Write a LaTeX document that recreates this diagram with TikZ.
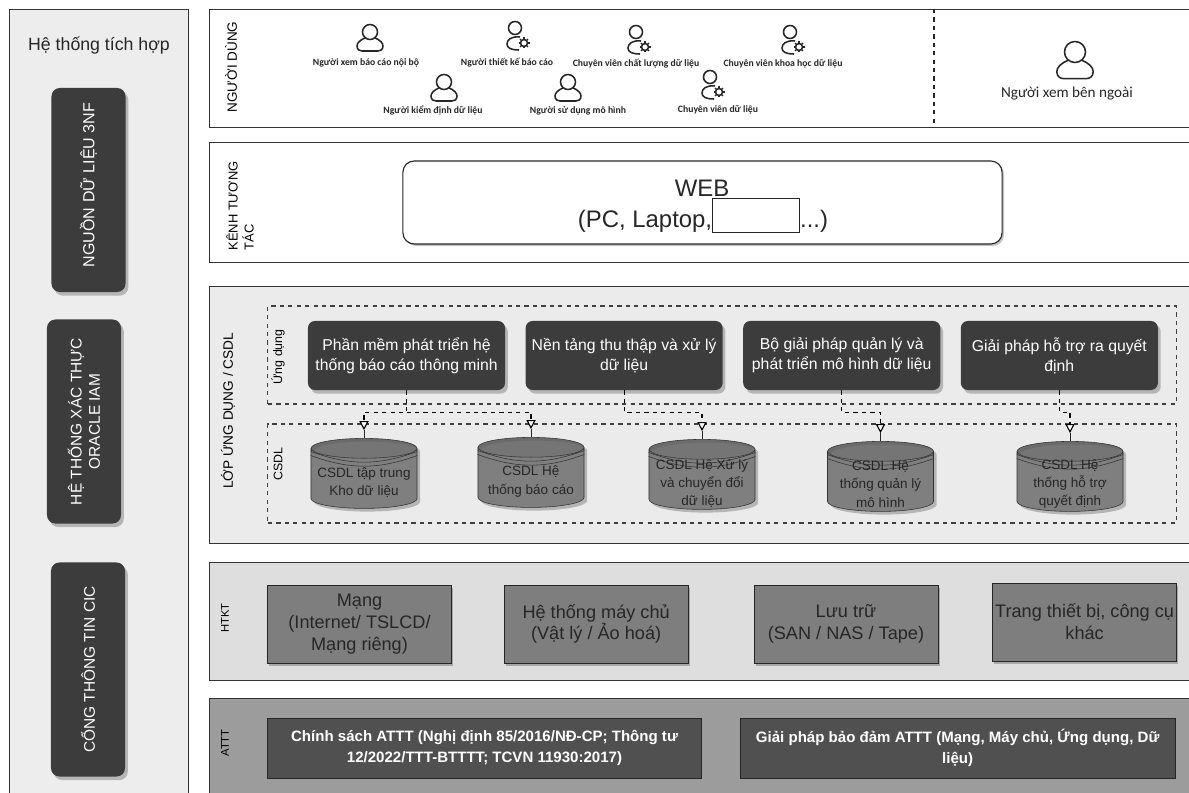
\documentclass[tikz,border=0pt]{standalone}
\usepackage{fontspec}
\setmainfont{Liberation Sans}
\newfontfamily\userfont{Carlito}
\usetikzlibrary{shapes.geometric,arrows.meta,positioning,calc,shadows}
\definecolor{darkbox}{HTML}{3C3C3C}
\definecolor{midbox}{HTML}{7E7E7E}
\definecolor{secbox}{HTML}{505050}
\definecolor{secpanel}{HTML}{9C9C9C}
\newcommand{\dbgap}{\phantom{CSDL tap trung}\\\phantom{Kho}}
\begin{document}
\begin{tikzpicture}[
    x=0.025cm, y=-0.025cm,
    panel/.style={rectangle, draw=black!80, thick, fill=#1, anchor=north west, inner sep=0pt},
    sidebox/.style={rectangle, rounded corners=6pt, fill=darkbox, text=white, rotate=90, align=center, font=\fontsize{11}{13}\selectfont, minimum width=5.1cm, minimum height=1.85cm, drop shadow={shadow xshift=0.07cm, shadow yshift=-0.09cm, fill=black!50}},
    paneltext/.style={rotate=90, align=left, inner sep=0pt, font=\fontsize{#1}{11.5}\selectfont},
    zonebox/.style={rectangle, draw=black!75, dashed, thick, minimum width=22.7cm, inner sep=0pt},
    appbox/.style={rectangle, rounded corners=5pt, fill=darkbox, text=white, align=center, font=\fontsize{11.2}{14.2}\selectfont, minimum width=4.925cm, minimum height=1.725cm, inner sep=0pt, drop shadow={shadow xshift=0.07cm, shadow yshift=-0.09cm, fill=black!50}},
    dbnode/.style={cylinder, shape border rotate=90, aspect=0.22, draw=black!80, cylinder uses custom fill, cylinder body fill=midbox, cylinder end fill=black!58, align=center, font=\fontsize{9.3}{13.5}\selectfont, minimum width=2.65cm, minimum height=1.75cm, inner sep=0pt, drop shadow={shadow xshift=0.08cm, shadow yshift=-0.08cm, fill=black!50}},
    dbtext/.style={align=center, text=black!85, font=\fontsize{9.6}{13}\selectfont, inner sep=0pt},
    hwbox/.style={rectangle, draw=black!85, fill=midbox, align=center, text=black!85, font=\fontsize{12.9}{15.5}\selectfont, minimum width=4.6cm, minimum height=1.95cm, inner sep=0pt, drop shadow={shadow xshift=0.04cm, shadow yshift=-0.08cm, fill=black!55}},
    secbox/.style={rectangle, draw=black!85, fill=secbox, text=white, align=center, font=\fontsize{10.7}{15}\selectfont\bfseries, minimum height=1.5cm, inner sep=0pt},
    userlabel/.style={font=\userfont\fontsize{6.9}{8}\selectfont\bfseries, inner sep=0pt, text=black!85},
    icon/.style={draw=black!85, line width=1.1pt},
    link/.style={dashed, thick, -{Triangle[open, fill=white, length=0.225cm, width=0.23cm]}},
    personicon/.pic={
        \draw[icon] (0,0) circle[radius=7.5];
        \draw[icon] (-5,6) .. controls (-10,8) and (-13,11) .. (-13,14) .. controls (-13,18) and (-10,19) .. (-8,19) -- (8,19) .. controls (10,19) and (13,18) .. (13,14) .. controls (13,11) and (10,8) .. (5,6);
    },
    adminicon/.pic={
        \draw[icon] (0,0) circle[radius=6.5];
        \draw[icon] (5,9) .. controls (-4,8) and (-8,12) .. (-8,16) .. controls (-8,20) and (-4,22) .. (4,22);
        \draw[icon] (9,15) circle[radius=3.5];
        \foreach \ang in {0,45,...,315} {\draw[icon, line width=0.9pt] ($(9,15)+(\ang:3.5)$) -- ($(9,15)+(\ang:5.5)$);}
    }
]
\useasboundingbox (0,0) rectangle (1189,793);
\fill[white] (0,0) rectangle (1189,793);

\node[panel=black!7, minimum width=4.475cm, minimum height=20cm] (intpanel) at (9,9) {};
\node[panel=white, minimum width=24.75cm, minimum height=2.95cm] (usrpanel) at (209,9) {};
\node[panel=white, minimum width=24.75cm, minimum height=3cm] (webpanel) at (209,142) {};
\node[panel=black!8, minimum width=24.75cm, minimum height=6.425cm] (apppanel) at (209,286) {};
\node[panel=black!13, minimum width=24.75cm, minimum height=2.95cm] (infpanel) at (209,562) {};
\node[panel=secpanel, minimum width=24.75cm, minimum height=3cm] (secpanel) at (209,698) {};

\node[font=\fontsize{12.6}{15}\selectfont, text=black!85] (inttitle) at (99,46) {Hệ thống tích hợp};
\node[sidebox, font=\fontsize{11.4}{14}\selectfont] (src) at (88.5,190) {\hspace*{0.25cm}NGUỒN DỮ LIỆU 3NF};
\node[sidebox] (iam) at (84,421.5) {HỆ THỐNG XÁC THỰC\\ORACLE IAM};
\node[sidebox, minimum width=5.35cm] (cic) at (88,669.5) {CỔNG THÔNG TIN CIC};

\node[paneltext=9.6] (usrtitle) at (231,67) {NGƯỜI DÙNG};
\node[paneltext=9.2] (webtitle) at (240,206) {KÊNH TƯƠNG\\TÁC};
\node[paneltext=9.7] (apptitle) at (228,411) {LỚP ỨNG DỤNG / CSDL};
\node[paneltext=8] (inftitle) at (225,618) {HTKT};
\node[paneltext=8] (sectitle) at (225,743) {ATTT};

\coordinate (divtop) at (934,9);
\coordinate (divbot) at (934,127);
\draw[dashed, thick, black!85] (divtop) -- (divbot);

\pic at (370,32) {personicon};
\pic at (515,28) {adminicon};
\pic at (636,32) {adminicon};
\pic at (790,32) {adminicon};
\pic at (444,82) {personicon};
\pic at (568,82) {personicon};
\pic at (710,77) {adminicon};
\pic[scale=1.4] at (1075,52) {personicon};
\node[userlabel] (usra) at (366,63) {Người xem báo cáo nội bộ};
\node[userlabel] (usrb) at (507,63) {Người thiết kế báo cáo};
\node[userlabel] (usrc) at (636,64) {Chuyên viên chất lượng dữ liệu};
\node[userlabel] (usrd) at (783,64) {Chuyên viên khoa học dữ liệu};
\node[userlabel] (usre) at (433,111) {Người kiểm định dữ liệu};
\node[userlabel] (usrf) at (578,111) {Người sử dụng mô hình};
\node[userlabel] (usrg) at (718,110) {Chuyên viên dữ liệu};
\node[font=\userfont\fontsize{10.8}{12}\selectfont, text=black!85] (usrh) at (1067,94) {Người xem bên ngoài};

\node[rectangle, rounded corners=8pt, draw=black!85, thick, fill=white, minimum width=14.975cm, minimum height=2.075cm, drop shadow={shadow xshift=0.05cm, shadow yshift=-0.05cm, fill=black!45}] (webbox) at (702.5,202.5) {};
\node[font=\fontsize{17}{20}\selectfont, text=black!85, inner sep=0pt] (webtext) at (702,188) {WEB};
\node[font=\fontsize{17}{20}\selectfont, text=black!85, inner sep=0pt] (webdev) at (703,221) {(PC, Laptop,\hspace{2.2cm}...)};
\node[rectangle, draw=black!85, fill=white, minimum width=2.175cm, minimum height=0.85cm, inner sep=0pt] (webmask) at (756,215) {};

\node[zonebox, minimum height=2.45cm] (appzone) at (722,355) {};
\node[zonebox, minimum height=2.475cm] (dbzone) at (722,473.5) {};
\node[paneltext=8.8] (zonea) at (278,357) {Ứng dụng};
\node[paneltext=8.8] (zoneb) at (278,464) {CSDL};

\node[appbox] (appa) at (406.5,355.5) {Phần mềm phát triển hệ\\thống báo cáo thông minh};
\node[appbox, right=0.5cm of appa] (appb) {Nền tảng thu thập và xử lý\\dữ liệu};
\node[appbox, right=0.5cm of appb] (appc) {Bộ giải pháp quản lý và\\phát triển mô hình dữ liệu};
\node[appbox, right=0.5cm of appc] (appd) {Giải pháp hỗ trợ ra quyết\\định};

\node[dbnode] (dba) at (364,478.5) {\dbgap};
\node[dbnode] (dbb) at (531,477.5) {\dbgap};
\node[dbnode] (dbc) at (702,479.5) {\dbgap};
\node[dbnode] (dbd) at (880.5,481.5) {\dbgap};
\node[dbnode] (dbe) at (1070,481.5) {\dbgap};
\foreach \db in {dba,dbb,dbc,dbd,dbe} {
    \foreach \gap in {0.08,0.18} {
        \draw[black!80] ([yshift=-\gap cm]\db.before top) to[bend right=20] ([yshift=-\gap cm]\db.after top);
    }
}
\node[dbtext] (txta) at ([yshift=-0.1cm]dba.center) {CSDL tập trung\\Kho dữ liệu};
\node[dbtext] (txtb) at ([yshift=-0.1cm]dbb.center) {CSDL Hệ\\thống báo cáo};
\node[dbtext] (txtc) at ([yshift=-0.1cm]dbc.center) {CSDL Hệ Xử lý\\và chuyển đổi\\dữ liệu};
\node[dbtext] (txtd) at ([yshift=-0.06cm]dbd.center) {CSDL Hệ\\thống quản lý\\mô hình};
\node[dbtext] (txte) at ([yshift=-0.06cm]dbe.center) {CSDL Hệ\\thống hỗ trợ\\quyết định};

\foreach \db/\tip in {dba/tipa,dbb/tipb,dbc/tipc,dbd/tipd,dbe/tipe} {
    \coordinate (\tip) at ([yshift=0.2cm]\db.north);
    \draw[black!85] (\tip) -- (\db.north);
}
\draw[link] (appa.south) -- ++(0,22) -| (tipa);
\draw[link] ($(appa.south)+(0,22)$) -| (tipb);
\draw[link] (appb.south) -- ++(0,22) -| (tipc);
\draw[link] (appc.south) -- ++(0,22) -| (tipd);
\draw[link] (appd.south) -- ++(0,22) -| (tipe);

\node[hwbox] (hwa) at (359.5,624) {Mạng\\(Internet/ TSLCD/\\Mạng riêng)};
\node[hwbox, right=1.3cm of hwa] (hwb) {Hệ thống máy chủ\\(Vật lý / Ảo hoá)};
\node[hwbox, right=1.63cm of hwb] (hwc) {Lưu trữ\\(SAN / NAS / Tape)};
\node[hwbox, right=1.35cm of hwc, yshift=0.05cm] (hwd) {Trang thiết bị, công cụ\\khác};

\node[secbox, minimum width=10.85cm] (seca) at (484.5,748) {Chính sách ATTT (Nghị định 85/2016/NĐ-CP; Thông tư\\12/2022/TTT-BTTTT; TCVN 11930:2017)};
\node[secbox, minimum width=10.875cm, right=0.95cm of seca] (secb) {Giải pháp bảo đảm ATTT (Mạng, Máy chủ, Ứng dụng, Dữ\\liệu)};
\end{tikzpicture}
\end{document}
